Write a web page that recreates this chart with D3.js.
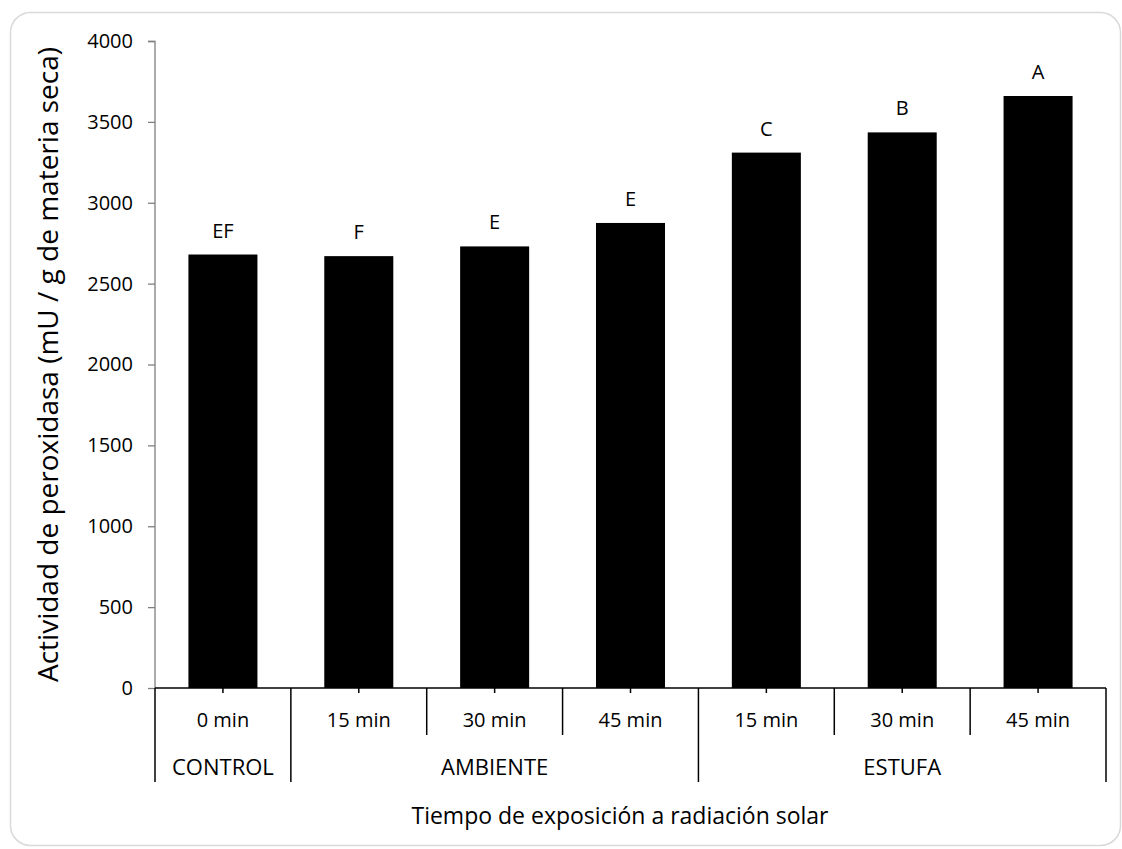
<!DOCTYPE html>
<html>
<head>
<meta charset="utf-8">
<script src="https://cdn.jsdelivr.net/npm/d3@7"></script>
<style>
  body { margin: 0; background: #fff; }
  text { font-family: "Open Sans", sans-serif; fill: #000; }
</style>
</head>
<body>
<div id="chart-area"></div>
<script>
// Data -------------------------------------------------
const times = ["0 min", "15 min", "30 min", "45 min", "15 min", "30 min", "45 min"]
const groups = ["CONTROL", "AMBIENTE", "ESTUFA"]
const groupSizes = [1, 3, 3]
const values = [2680, 2670, 2730, 2875, 3310, 3435, 3660]
const letters = ["EF", "F", "E", "E", "C", "B", "A"]
const yTicks = [0, 500, 1000, 1500, 2000, 2500, 3000, 3500, 4000]

// Canvas setup -----------------------------------------
const W = 1122, H = 849
const MARGIN = {LEFT: 155, RIGHT: 16, TOP: 41, BOTTOM: 161}
const WIDTH = W - MARGIN.LEFT - MARGIN.RIGHT
const HEIGHT = H - MARGIN.TOP - MARGIN.BOTTOM

const svg = d3.select("#chart-area").append("svg")
  .attr("width", W)
  .attr("height", H)

// rounded chart border
svg.append("rect")
  .attr("x", 10.5).attr("y", 12.5)
  .attr("width", 1110).attr("height", 833)
  .attr("rx", 20).attr("ry", 20)
  .attr("fill", "#fff")
  .attr("stroke", "#d9d9d9")
  .attr("stroke-width", 1.5)

const g = svg.append("g")
  .attr("transform", `translate(${MARGIN.LEFT}, ${MARGIN.TOP})`)

// Scales
const idx = times.map((d, i) => i)
const x = d3.scaleBand()
  .domain(idx)
  .range([0, WIDTH])
  .paddingInner(0.492)
  .paddingOuter(0.246)

const y = d3.scaleLinear()
  .domain([0, 4000])
  .range([HEIGHT, 0])

// Bars
g.selectAll("rect.bar")
  .data(values)
  .enter().append("rect")
  .attr("class", "bar")
  .attr("x", (d, i) => x(i))
  .attr("y", d => y(d))
  .attr("width", x.bandwidth())
  .attr("height", d => HEIGHT - y(d))
  .attr("fill", "#000")

// significance letters
g.selectAll("text.letter")
  .data(letters)
  .enter().append("text")
  .attr("class", "letter")
  .attr("x", (d, i) => x(i) + x.bandwidth() / 2)
  .attr("y", (d, i) => y(values[i]) - 17)
  .attr("text-anchor", "middle")
  .attr("font-size", "20px")
  .text(d => d)

// Y axis
const yAxis = g.append("g")
  .call(d3.axisLeft(y).tickValues(yTicks).tickSize(7).tickPadding(15).tickFormat(d3.format("d")))
yAxis.selectAll("line, path").attr("stroke", "#7f7f7f").attr("stroke-width", 1.3)
yAxis.select(".domain").attr("d", `M-7,0.5H0V${HEIGHT}`)
yAxis.selectAll("text").attr("font-size", "20px").attr("font-family", "Open Sans").attr("fill", "#000")

// X axis (multi level)
const xAxis = g.append("g")
  .attr("transform", `translate(0, ${HEIGHT})`)
  .call(d3.axisBottom(x).tickSize(5).tickFormat(""))
xAxis.selectAll("line, path").attr("stroke", "#000").attr("stroke-width", 1.5)
xAxis.select(".domain").attr("d", `M0,0H${WIDTH}`)

const step = x.step()
const row1 = 47, row2 = 94

// inner boundaries
g.selectAll("line.sep1")
  .data(d3.range(times.length + 1))
  .enter().append("line")
  .attr("x1", d => d * step).attr("x2", d => d * step)
  .attr("y1", HEIGHT).attr("y2", HEIGHT + row1)
  .attr("stroke", "#000").attr("stroke-width", 1.5)

// group boundaries
const groupStart = groupSizes.map((s, i) => d3.sum(groupSizes.slice(0, i)))
const bounds = groupStart.concat([times.length])
g.selectAll("line.sep2")
  .data(bounds)
  .enter().append("line")
  .attr("x1", d => d * step).attr("x2", d => d * step)
  .attr("y1", HEIGHT + row1).attr("y2", HEIGHT + row2)
  .attr("stroke", "#000").attr("stroke-width", 1.5)

g.selectAll("text.time")
  .data(times)
  .enter().append("text")
  .attr("x", (d, i) => x(i) + x.bandwidth() / 2)
  .attr("y", HEIGHT + 39)
  .attr("text-anchor", "middle")
  .attr("font-size", "20px")
  .text(d => d)

g.selectAll("text.group")
  .data(groups)
  .enter().append("text")
  .attr("x", (d, i) => (groupStart[i] + groupSizes[i] / 2) * step)
  .attr("y", HEIGHT + 87)
  .attr("text-anchor", "middle")
  .attr("font-size", "22px")
  .text(d => d)

// Axis titles
svg.append("text")
  .attr("x", 620)
  .attr("y", 824)
  .attr("text-anchor", "middle")
  .attr("font-size", "23px")
  .text("Tiempo de exposición a radiación solar")

svg.append("text")
  .attr("transform", `translate(58, ${MARGIN.TOP + HEIGHT / 2}) rotate(-90)`)
  .attr("text-anchor", "middle")
  .attr("font-size", "28px")
  .text("Actividad de peroxidasa (mU / g de materia seca)")
</script>
</body>
</html>
